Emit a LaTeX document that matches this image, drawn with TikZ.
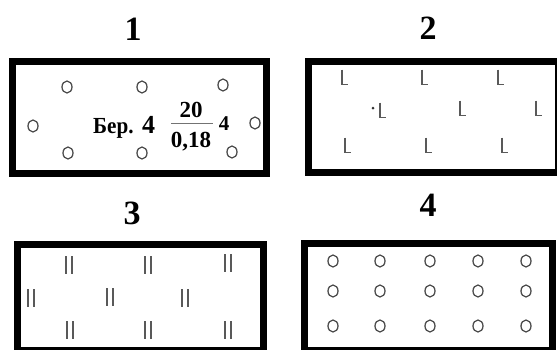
\documentclass[tikz,border=0pt]{standalone}
\usepackage{fontspec}
\setmainfont{Liberation Serif}
\begin{document}
\begin{tikzpicture}[x=1pt,y=-1pt,
  frame/.style={line width=7pt, draw=black},
  hole/.style={draw=black!70, line width=1.3pt},
  barmark/.style={draw=black!65, line width=1.6pt},
  lmark/.style={draw=black!65, line width=1.4pt},
  num/.style={font=\fontsize{34}{34}\selectfont\bfseries, inner sep=0pt},
  txt/.style={font=\fontsize{23}{23}\selectfont\bfseries, inner sep=0pt},
  frac/.style={font=\fontsize{23}{23}\selectfont\bfseries, inner sep=0pt},
]
\useasboundingbox (0,0) rectangle (557,349);
\clip (0,0) rectangle (557,349);

% ---------- labels
\node[num] (l1) at (133,29) {1};
\node[num] (l2) at (428,28) {2};
\node[num] (l3) at (132,213) {3};
\node[num] (l4) at (428,205) {4};

% ---------- frames
\draw[frame] (12.5,61.5) rectangle (266.5,173.5);
\draw[frame] (308.5,61.5) rectangle (558.5,172.5);
\draw[frame] (17.5,244.5) rectangle (263,350.5);
\draw[frame] (304,243.5) rectangle (552,350.5);

% ---------- panel 1
\foreach \x/\y in {67/87,142/87,223/85,33/126,255/123,68/153,142/153,232/152}
  \draw[hole] (\x,\y) ellipse [x radius=5pt, y radius=6pt];
\node[txt, anchor=base west, xscale=0.92] (ber) at (93,133.5) {Бер.};
\node[txt, font=\fontsize{26}{26}\selectfont\bfseries] (fa) at (148.5,125) {4};
\node[frac] (fnum) at (191,110) {20};
\node[frac, anchor=base] (fden) at (191,147) {0,18};
\coordinate (barl) at (171,123);
\coordinate (barr) at (213,123);
\draw[black!55, line width=0.8pt] (barl) -- (barr);
\node[txt, font=\fontsize{21}{21}\selectfont\bfseries] (fb) at (224,124) {4};

% ---------- panel 2 (L marks)
\foreach \x/\y in {342/77,422/77,498/77,380/110,460/108,536/108,345/145,426/145,502/145}
  \draw[lmark] (\x,\y-7.5) -- (\x,\y+7.5) -- (\x+5.5,\y+7.5);
\fill[black!80] (373,108) circle [radius=1.5pt];

% ---------- panel 3 (double bars)
\foreach \x/\y in {69/265,148/265,228/263,31/298,110/297,185/298,70/330,148/330,228/330}
  \draw[barmark] (\x-3,\y-9) -- (\x-3,\y+9) (\x+3,\y-9) -- (\x+3,\y+9);

% ---------- panel 4 (circle grid)
\foreach \y in {261,291,326}
  \foreach \x in {333,380,430,478,526}
    \draw[hole] (\x,\y) ellipse [x radius=5pt, y radius=6pt];
\end{tikzpicture}
\end{document}
